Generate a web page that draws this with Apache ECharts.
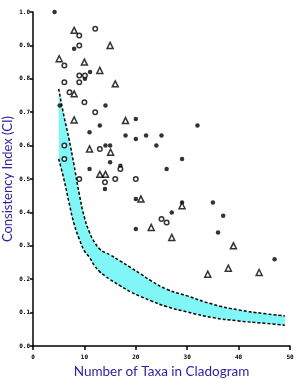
<!DOCTYPE html>
<html>
<head>
<meta charset="utf-8">
<script src="https://cdn.jsdelivr.net/npm/echarts@6/dist/echarts.min.js"></script>
<style>
  html, body { margin: 0; padding: 0; background: #fff; }
  #chart { width: 300px; height: 379px; }
</style>
</head>
<body>
<div id="chart"></div>
<script>
// band of expected CI (x = number of taxa)
var bandX = [5, 6, 7, 8, 9, 10, 11, 12, 13, 14, 15, 17, 19, 21, 23, 26, 30, 35, 40, 45, 49];
var bandUpper = [0.77, 0.69, 0.62, 0.54, 0.455, 0.385, 0.34, 0.31, 0.29, 0.28, 0.273, 0.254, 0.235, 0.215, 0.195, 0.17, 0.15, 0.125, 0.108, 0.097, 0.09];
var bandLower = [0.56, 0.50, 0.43, 0.365, 0.32, 0.285, 0.265, 0.24, 0.222, 0.21, 0.199, 0.18, 0.162, 0.148, 0.135, 0.118, 0.102, 0.085, 0.075, 0.068, 0.062];

// observed cladograms: [taxa, CI]
var filledPts = [
  [4.2, 1.0], [8.0, 0.89], [10.1, 0.80], [11.1, 0.82], [5.2, 0.72], [14.1, 0.72],
  [13.0, 0.66], [20.0, 0.68], [11.0, 0.64], [18.0, 0.63], [20.0, 0.62], [22.0, 0.63],
  [25.0, 0.63], [32.0, 0.66], [24.0, 0.60], [14.1, 0.60], [15.0, 0.60], [15.0, 0.55],
  [29.0, 0.56], [26.0, 0.53], [11.0, 0.53], [17.0, 0.54], [14.0, 0.47], [20.0, 0.44],
  [29.0, 0.43], [35.0, 0.43], [27.0, 0.40], [37.0, 0.39], [20.0, 0.35], [36.0, 0.34],
  [47.0, 0.26]
];
var openPts = [
  [9.0, 0.93], [12.1, 0.95], [9.0, 0.90], [6.1, 0.84], [9.0, 0.81], [10.1, 0.81],
  [6.1, 0.79], [9.0, 0.79], [7.1, 0.76], [10.0, 0.73], [12.1, 0.70], [6.1, 0.60],
  [13.0, 0.59], [6.1, 0.56], [17.0, 0.53], [9.0, 0.50], [16.0, 0.50], [20.0, 0.50],
  [14.0, 0.49], [25.0, 0.38], [26.0, 0.37]
];
var trianglePts = [
  [8.0, 0.945], [15.0, 0.90], [5.1, 0.86], [10.0, 0.85], [13.0, 0.825], [16.0, 0.785],
  [8.0, 0.755], [8.0, 0.677], [18.0, 0.675], [11.0, 0.59], [15.1, 0.58], [13.0, 0.514],
  [14.1, 0.514], [21.0, 0.44], [29.0, 0.42], [23.0, 0.355], [27.0, 0.325], [39.0, 0.30],
  [38.0, 0.233], [34.0, 0.215], [44.0, 0.22]
];

var xTicks = [0, 10, 20, 30, 40, 50];
var titleColor = '#2b1f9e';

var myChart = echarts.init(document.getElementById('chart'));

function pairs(xs, ys) {
  var out = [];
  for (var i = 0; i < xs.length; i++) out.push([xs[i], ys[i]]);
  return out;
}

var tickFont = { fontSize: 6, fontWeight: 'bold', fontFamily: 'DejaVu Sans Mono', color: '#000' };

var option = {
  backgroundColor: '#ffffff',
  animation: false,
  grid: { left: 33, right: 10, top: 12, bottom: 33, outerBoundsMode: 'none', containLabel: false },
  xAxis: {
    type: 'value',
    min: 0, max: 50, interval: 10,
    z: 10,
    name: 'Number of Taxa in Cladogram',
    nameLocation: 'middle',
    nameGap: 18,
    nameTextStyle: { color: titleColor, fontSize: 13.5, fontFamily: 'Lato' },
    axisLine: { onZero: false, lineStyle: { color: '#000', width: 1.5 } },
    axisTick: { show: true, length: 4, lineStyle: { color: '#000', width: 1.5 } },
    axisLabel: Object.assign({ margin: 8, formatter: function (v) { return xTicks.indexOf(v) >= 0 ? String(v) : ''; } }, tickFont),
    splitLine: { show: false }
  },
  yAxis: {
    type: 'value',
    min: 0, max: 1, interval: 0.1,
    z: 10,
    name: 'Consistency Index (CI)',
    nameLocation: 'middle',
    nameGap: 19,
    nameMoveOverlap: false,
    nameTextStyle: { color: titleColor, fontSize: 13, fontFamily: 'Lato' },
    axisLine: { show: true, lineStyle: { color: '#000', width: 1.5 } },
    axisTick: { show: true, length: 3, lineStyle: { color: '#000', width: 1.5 } },
    axisLabel: Object.assign({ margin: 3, formatter: function (v) { return v.toFixed(1); } }, tickFont),
    splitLine: { show: false }
  },
  series: [
    // cyan fill under the upper curve, then white fill under the lower curve leaves the band
    {
      name: 'bandFill', type: 'line', smooth: true, silent: true, z: 1,
      data: pairs(bandX, bandUpper), symbol: 'none',
      lineStyle: { opacity: 0 },
      areaStyle: { color: '#80f6f6', opacity: 1, origin: 'start' }
    },
    {
      name: 'bandCut', type: 'line', smooth: true, silent: true, z: 1,
      data: pairs(bandX, bandLower), symbol: 'none',
      lineStyle: { opacity: 0 },
      areaStyle: { color: '#ffffff', opacity: 1, origin: 'start',
                   shadowColor: '#ffffff', shadowBlur: 0, shadowOffsetX: -1 }
    },
    {
      name: 'upper', type: 'line', smooth: true, silent: true, z: 3,
      data: pairs(bandX, bandUpper), symbol: 'none',
      lineStyle: { color: '#000', width: 1.5, type: [3, 2] }
    },
    {
      name: 'lower', type: 'line', smooth: true, silent: true, z: 3,
      data: pairs(bandX, bandLower), symbol: 'none',
      lineStyle: { color: '#000', width: 1.5, type: [3, 2] }
    },
    {
      name: 'filled', type: 'scatter', data: filledPts, symbol: 'circle', symbolSize: 4.5,
      itemStyle: { color: '#000' }, z: 5
    },
    {
      name: 'open', type: 'scatter', data: openPts, symbol: 'circle', symbolSize: 4.5,
      itemStyle: { color: '#fff', borderColor: '#000', borderWidth: 1.5 }, z: 5
    },
    {
      name: 'triangle', type: 'scatter', data: trianglePts, symbol: 'triangle', symbolSize: 6,
      itemStyle: { color: '#fff', borderColor: '#000', borderWidth: 1.5 }, z: 5
    }
  ]
};

if (option && typeof option === "object") {
  myChart.setOption(option, true);
}
</script>
</body>
</html>
